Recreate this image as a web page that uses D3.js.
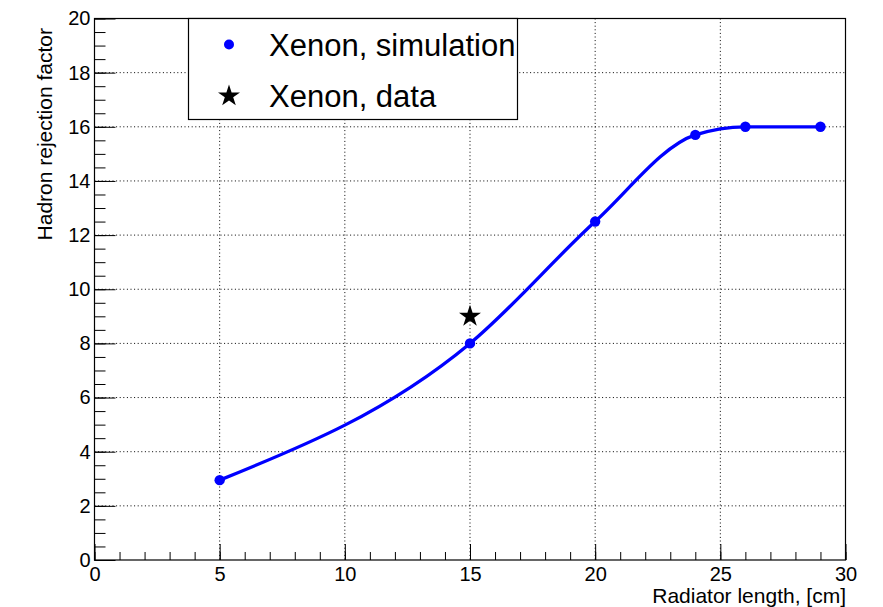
<!DOCTYPE html>
<html>
<head>
<meta charset="utf-8">
<script src="https://cdn.jsdelivr.net/npm/d3@7"></script>
<style>
  body { margin: 0; background: #fff; }
  svg { font-family: "Liberation Sans", Arial, Helvetica, sans-serif; }
</style>
</head>
<body>
<div id="chart"></div>
<script>
// simulation points (radiator length in cm, hadron rejection factor)
var simLength = [5, 15, 20, 24, 26, 29];
var simRejection = [2.95, 8.0, 12.5, 15.7, 16.0, 16.0];
// measured point
var dataLength = [15];
var dataRejection = [9.0];

var xTicks = [0, 5, 10, 15, 20, 25, 30];
var yTicks = [0, 2, 4, 6, 8, 10, 12, 14, 16, 18, 20];
var legendLabels = ["Xenon, simulation", "Xenon, data"];

var W = 883, H = 607;
var margin = {top: 18.5, right: 37.5, bottom: 47, left: 94.5},
    width = W - margin.left - margin.right,
    height = H - margin.top - margin.bottom;

var svg = d3.select("#chart")
  .append("svg")
    .attr("width", W)
    .attr("height", H);

var g = svg.append("g")
    .attr("transform", "translate(" + margin.left + "," + margin.top + ")");

var x = d3.scaleLinear().domain([0, 30]).range([0, width]);
var y = d3.scaleLinear().domain([0, 20]).range([height, 0]);

// dotted grid
g.selectAll(".gx")
  .data(xTicks.slice(1, -1))
  .enter().append("line")
    .attr("x1", function(d) { return x(d); })
    .attr("x2", function(d) { return x(d); })
    .attr("y1", 0).attr("y2", height)
    .attr("stroke", "#000").attr("stroke-width", 1)
    .attr("stroke-dasharray", "1,2.6");
g.selectAll(".gy")
  .data(yTicks.slice(1, -1))
  .enter().append("line")
    .attr("y1", function(d) { return y(d); })
    .attr("y2", function(d) { return y(d); })
    .attr("x1", 0).attr("x2", width)
    .attr("stroke", "#000").attr("stroke-width", 1)
    .attr("stroke-dasharray", "1,2.6");

// y axis: major and minor ticks pointing inside
g.append("g")
  .call(d3.axisLeft(y).tickValues(d3.range(0, 20.01, 0.5))
    .tickSizeInner(-11).tickSizeOuter(0).tickFormat(""))
  .call(function(a) { a.select(".domain").remove(); });
var yAx = g.append("g")
  .call(d3.axisLeft(y).tickValues(yTicks)
    .tickSizeInner(-21).tickSizeOuter(0).tickPadding(4))
  .call(function(a) { a.select(".domain").remove(); });
yAx.selectAll("text").attr("font-size", 20).attr("fill", "#000")
  .attr("font-family", "Liberation Sans, Arial, sans-serif");

// x axis
g.append("g")
  .attr("transform", "translate(0," + height + ")")
  .call(d3.axisBottom(x).tickValues(d3.range(0, 30.01, 1))
    .tickSizeInner(-8).tickSizeOuter(0).tickFormat(""))
  .call(function(a) { a.select(".domain").remove(); });
var xAx = g.append("g")
  .attr("transform", "translate(0," + height + ")")
  .call(d3.axisBottom(x).tickValues(xTicks)
    .tickSizeInner(-16).tickSizeOuter(0).tickPadding(7))
  .call(function(a) { a.select(".domain").remove(); });
xAx.selectAll("text").attr("font-size", 20).attr("fill", "#000")
  .attr("font-family", "Liberation Sans, Arial, sans-serif");
g.selectAll(".tick line").attr("stroke", "#000");

// frame
g.append("rect")
  .attr("width", width).attr("height", height)
  .attr("fill", "none").attr("stroke", "#000").attr("stroke-width", 1.2);

// axis titles
svg.append("text")
  .attr("x", 846).attr("y", 603)
  .attr("text-anchor", "end")
  .attr("font-size", 21)
  .text("Radiator length, [cm]");
svg.append("text")
  .attr("transform", "translate(52,28) rotate(-90)")
  .attr("text-anchor", "end")
  .attr("font-size", 21)
  .text("Hadron rejection factor");

// smooth curve through simulation
var sim = simLength.map(function(d, i) { return {x: d, y: simRejection[i]}; });
g.append("path")
  .datum(sim)
  .attr("fill", "none")
  .attr("stroke", "#0000ff")
  .attr("stroke-width", 3.3)
  .attr("d", d3.line()
    .curve(d3.curveMonotoneX)
    .x(function(d) { return x(d.x); })
    .y(function(d) { return y(d.y); }));

g.selectAll(".sim")
  .data(sim)
  .enter().append("circle")
    .attr("cx", function(d) { return x(d.x); })
    .attr("cy", function(d) { return y(d.y); })
    .attr("r", 5.2)
    .attr("fill", "#0000ff");

var star = d3.symbol().type(d3.symbolStar).size(150);
g.selectAll(".dat")
  .data(dataLength)
  .enter().append("path")
    .attr("d", star)
    .attr("transform", function(d, i) {
      return "translate(" + x(d) + "," + y(dataRejection[i]) + ")";
    })
    .attr("fill", "#000");

// legend
var leg = svg.append("g");
leg.append("rect")
  .attr("x", 188.5).attr("y", 18.5)
  .attr("width", 329).attr("height", 101)
  .attr("fill", "#fff").attr("stroke", "#000").attr("stroke-width", 1.2);
leg.append("circle")
  .attr("cx", 229).attr("cy", 44.5).attr("r", 5)
  .attr("fill", "#0000ff");
leg.append("path")
  .attr("d", star)
  .attr("transform", "translate(229,96)")
  .attr("fill", "#000");
leg.selectAll(".lt")
  .data(legendLabels)
  .enter().append("text")
    .attr("x", 269)
    .attr("y", function(d, i) { return i === 0 ? 55.5 : 107; })
    .attr("font-size", 31)
    .text(function(d) { return d; });
</script>
</body>
</html>
